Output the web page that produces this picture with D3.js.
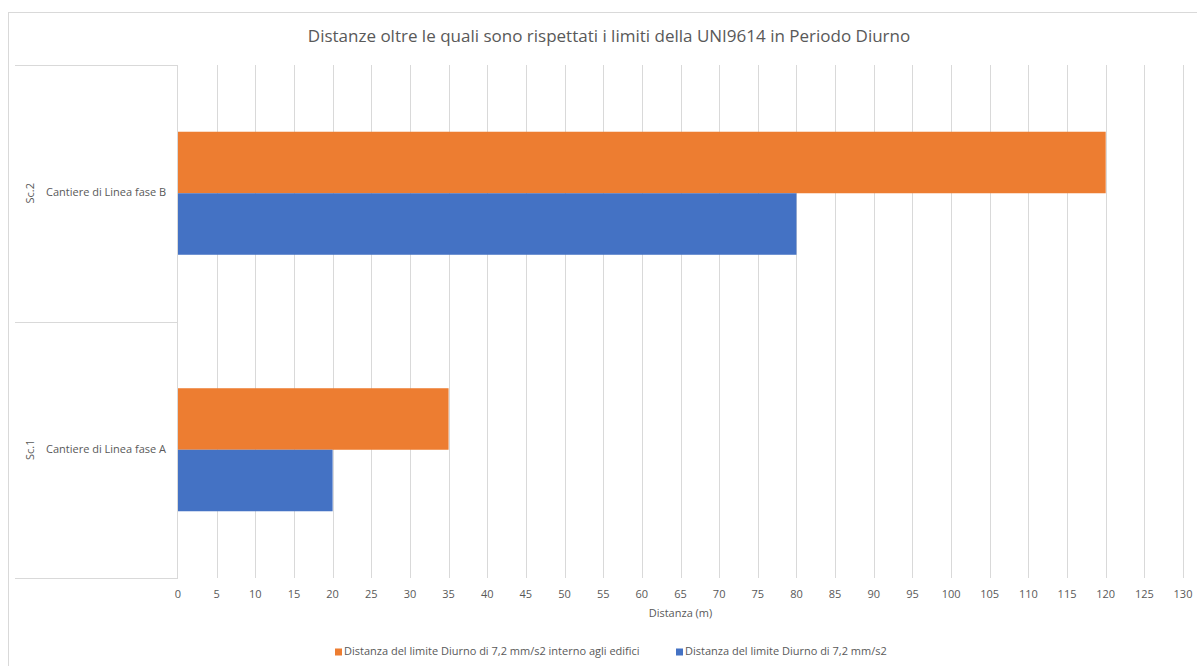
<!DOCTYPE html>
<html>
<head>
<meta charset="utf-8">
<script src="https://cdn.jsdelivr.net/npm/d3@7"></script>
<style>
    body { margin: 0; background: #fff; }
    text { font-family: "Open Sans", "Liberation Sans", sans-serif; fill: #595959; }
</style>
</head>
<body>
<div id="chart"></div>
<script>
// Data.
const groups = ["Sc.2", "Sc.1"];
const categories = ["Cantiere di Linea fase B", "Cantiere di Linea fase A"];
const seriesNames = [
    "Distanza del limite Diurno di 7,2 mm/s2 interno agli edifici",
    "Distanza del limite Diurno di 7,2 mm/s2"
];
const interni = [120, 35];
const esterni = [80, 20];
const seriesColors = ["#ED7D31", "#4472C4"];
const xTicks = d3.range(0, 131, 5);

const W = 1197, H = 666;
const plot = { left: 178, right: 1183, top: 65, bottom: 578 };
const catLeft = 15;

const svg = d3.select("#chart").append("svg")
    .attr("width", W)
    .attr("height", H);

// Chart frame
svg.append("rect")
    .attr("x", 8.5).attr("y", 12.5)
    .attr("width", W + 10).attr("height", H + 10)
    .attr("fill", "none")
    .attr("stroke", "#d9d9d9");

const x = d3.scaleLinear().domain([0, 130]).range([plot.left, plot.right]);
const y = d3.scaleBand().domain(categories).range([plot.top, plot.bottom]);
const sub = d3.scaleBand().domain([0, 1])
    .range([0, y.bandwidth()])
    .paddingOuter(1.085);

// Gridlines
svg.append("g")
    .selectAll("line")
    .data(xTicks.slice(1))
    .join("line")
        .attr("x1", d => Math.round(x(d)) + 0.5)
        .attr("x2", d => Math.round(x(d)) + 0.5)
        .attr("y1", plot.top)
        .attr("y2", plot.bottom)
        .attr("stroke", "#d9d9d9");

// Bars
const rows = categories.map((c, i) => ({ cat: c, vals: [interni[i], esterni[i]] }));
svg.append("g")
    .selectAll("g")
    .data(rows)
    .join("g")
        .attr("transform", d => `translate(0,${y(d.cat)})`)
    .selectAll("rect")
    .data(d => d.vals.map((v, k) => ({ v, k })))
    .join("rect")
        .attr("x", x(0))
        .attr("y", d => sub(d.k))
        .attr("width", d => x(d.v) - x(0))
        .attr("height", sub.bandwidth())
        .attr("fill", d => seriesColors[d.k]);

// Category axis box
const boxY = [plot.top, plot.top + y.bandwidth(), plot.bottom];
svg.append("g")
    .selectAll("line")
    .data(boxY)
    .join("line")
        .attr("x1", catLeft)
        .attr("x2", plot.left)
        .attr("y1", d => Math.round(d) + 0.5)
        .attr("y2", d => Math.round(d) + 0.5)
        .attr("stroke", "#d9d9d9");
svg.append("line")
    .attr("x1", plot.left - 0.5).attr("x2", plot.left - 0.5)
    .attr("y1", plot.top).attr("y2", plot.bottom + 1)
    .attr("stroke", "#d9d9d9");

// Category labels
svg.append("g")
    .selectAll("text")
    .data(categories)
    .join("text")
        .attr("x", 46)
        .attr("y", d => y(d) + y.bandwidth() / 2)
        .attr("dominant-baseline", "middle")
        .style("font-size", "11px")
        .text(d => d);

svg.append("g")
    .selectAll("text")
    .data(groups)
    .join("text")
        .attr("transform", (d, i) =>
            `translate(31,${y(categories[i]) + y.bandwidth() / 2}) rotate(-90)`)
        .attr("text-anchor", "middle")
        .attr("dominant-baseline", "middle")
        .style("font-size", "11px")
        .text(d => d);

// X tick labels
svg.append("g")
    .selectAll("text")
    .data(xTicks)
    .join("text")
        .attr("x", d => x(d))
        .attr("y", 595)
        .attr("text-anchor", "middle")
        .attr("dominant-baseline", "middle")
        .style("font-size", "11px")
        .text(d => d);

// Axis title
svg.append("text")
    .attr("x", (plot.left + plot.right) / 2)
    .attr("y", 614)
    .attr("text-anchor", "middle")
    .attr("dominant-baseline", "middle")
    .style("font-size", "11px")
    .text("Distanza (m)");

// Title
svg.append("text")
    .attr("x", 609)
    .attr("y", 37)
    .attr("text-anchor", "middle")
    .attr("dominant-baseline", "middle")
    .style("font-size", "17px")
    .text("Distanze oltre le quali sono rispettati i limiti della UNI9614 in Periodo Diurno");

// Legend
const legendX = [335, 676];
const legend = svg.append("g")
    .selectAll("g")
    .data(seriesNames)
    .join("g")
        .attr("transform", (d, i) => `translate(${legendX[i]},652)`);
legend.append("rect")
    .attr("x", 0).attr("y", -3.5)
    .attr("width", 7).attr("height", 7)
    .attr("fill", (d, i) => seriesColors[i]);
legend.append("text")
    .attr("x", 9)
    .attr("y", 0)
    .attr("dominant-baseline", "middle")
    .style("font-size", "11px")
    .text(d => d);
</script>
</body>
</html>
